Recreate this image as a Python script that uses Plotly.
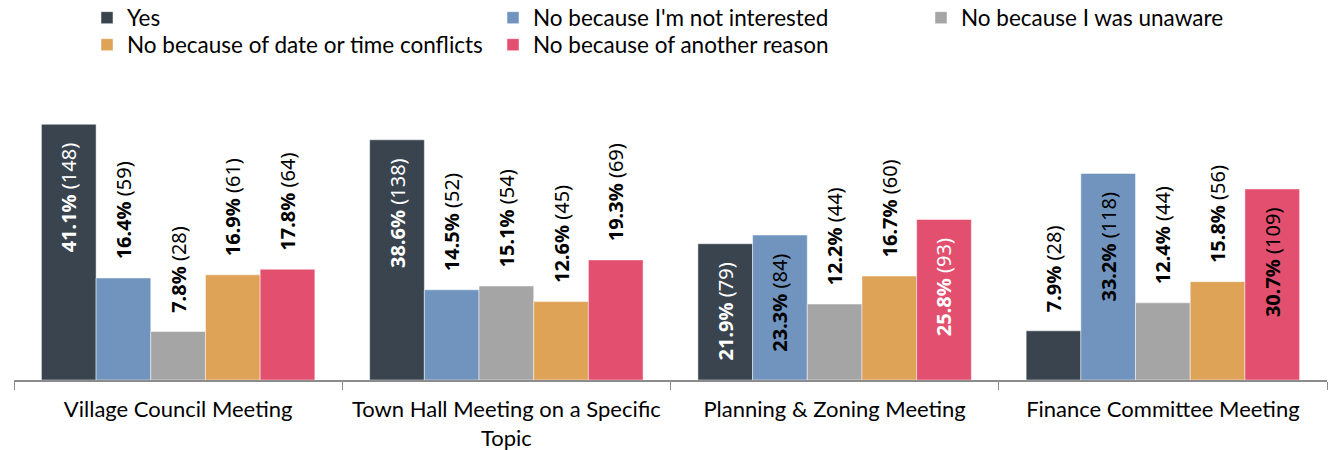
import plotly.graph_objects as go

categories = ["Village Council Meeting", "Town Hall Meeting on a Specific<br>Topic",
              "Planning & Zoning Meeting", "Finance Committee Meeting"]
series_names = ["Yes", "No because I'm not interested", "No because I was unaware",
                "No because of date or time conflicts", "No because of another reason"]
yes_pct = [41.1, 38.6, 21.9, 7.9]
yes_n = [148, 138, 79, 28]
not_interested_pct = [16.4, 14.5, 23.3, 33.2]
not_interested_n = [59, 52, 84, 118]
unaware_pct = [7.8, 15.1, 12.2, 12.4]
unaware_n = [28, 54, 44, 44]
conflict_pct = [16.9, 12.6, 16.7, 15.8]
conflict_n = [61, 45, 60, 56]
other_pct = [17.8, 19.3, 25.8, 30.7]
other_n = [64, 69, 93, 109]

pcts = [yes_pct, not_interested_pct, unaware_pct, conflict_pct, other_pct]
counts = [yes_n, not_interested_n, unaware_n, conflict_n, other_n]
colors = ["#39444F", "#7194BE", "#A5A5A5", "#DFA358", "#E34F6F"]

# label placement per series (inside = label at top inside bar)
placement = [
    ["inside", "inside", "inside", "outside"],
    ["outside", "outside", "inside", "inside"],
    ["outside", "outside", "outside", "outside"],
    ["outside", "outside", "outside", "outside"],
    ["outside", "outside", "inside", "inside"],
]
label_colors = [
    ["white", "white", "white", "black"],
    ["black", "black", "black", "black"],
    ["black", "black", "black", "black"],
    ["black", "black", "black", "black"],
    ["black", "black", "white", "black"],
]
# legend entry positions (text left x, row centre y) in pixels
legend_pos = [(127, 18), (533, 18), (961, 18), (127, 45), (533, 45)]

label_font = "Noto Sans"
axis_font = "Lato"
W, H = 1330, 450
PAD = "&nbsp;&nbsp;&nbsp;"

fig = go.Figure()
legend_layouts = {}
for i, name in enumerate(series_names):
    texts = []
    for p, n, pos in zip(pcts[i], counts[i], placement[i]):
        core = f"<b>{p:.1f}%</b> ({n})"
        texts.append(core + PAD if pos == "inside" else PAD + core)
    lname = "legend" if i == 0 else f"legend{i + 1}"
    fig.add_trace(go.Bar(
        x=categories, y=pcts[i], name=name, legend=lname,
        marker=dict(color=colors[i], line=dict(color="rgba(255,255,255,0.6)", width=0.8)),
        text=texts, textposition=placement[i], textangle=-90,
        insidetextanchor="end", constraintext="none",
        textfont=dict(family=label_font, size=20, color=label_colors[i]),
        insidetextfont=dict(family=label_font, size=20, color=label_colors[i]),
        outsidetextfont=dict(family=label_font, size=20, color=label_colors[i]),
        cliponaxis=False, hoverinfo="skip",
    ))
    lx, ly = legend_pos[i]
    legend_layouts[lname] = dict(
        orientation="h", xref="container", yref="container",
        x=(lx - 40) / W, y=1 - ly / H, xanchor="left", yanchor="middle",
        font=dict(family=axis_font, size=22.5, color="#000000"),
        itemwidth=30, bgcolor="rgba(0,0,0,0)",
    )

fig.update_layout(
    width=W, height=H,
    margin=dict(l=14, r=3, t=100, b=70, autoexpand=False),
    barmode="group", bargap=0.167, bargroupgap=0,
    plot_bgcolor="white", paper_bgcolor="white",
    font=dict(family=axis_font, size=21, color="#000000"),
    showlegend=True,
    xaxis=dict(showline=True, linecolor="#8C8C8C", linewidth=1.5, automargin=False,
               ticks="outside", tickson="boundaries", ticklen=8, tickcolor="#8C8C8C",
               tickfont=dict(family=axis_font, size=22, color="#000000"),
               ticklabelstandoff=9),
    yaxis=dict(range=[0, 45], visible=False, showgrid=False, automargin=False),
    **legend_layouts,
)

fig.write_html("out.html", config={"displayModeBar": False},
               post_script="document.body.style.margin='0';")
